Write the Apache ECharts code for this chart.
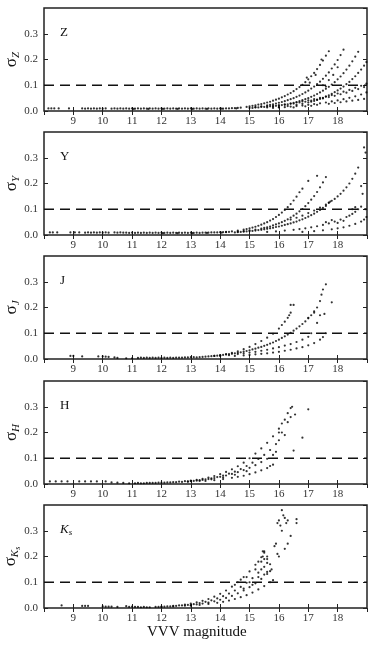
<!DOCTYPE html>
<html>
<head>
<meta charset="utf-8">
<script src="https://cdn.jsdelivr.net/npm/echarts@6/dist/echarts.min.js"></script>
<style>html,body{margin:0;background:#fff}#chart{width:375px;height:650px}</style>
</head>
<body>
<div id="chart"></div>
<script>
// magnitude axis + tick labels
const magMin = 8, magMax = 19;
const sigMax = 0.4;
const refLevel = 0.1;
const refLine = [[8, 0.1], [19, 0.1]];

// ---- Z ----
const zFlat = [[8.15,.01],[8.25,.01],[8.35,.01],[8.5,.01],[8.85,.01],[9.3,.01],[9.4,.009],[9.5,.01],[9.6,.009],[9.7,.01],[9.8,.009],[9.9,.01],[10.0,.009],[10.1,.01],[10.3,.009],[10.4,.01],[10.5,.009],[10.6,.01],[10.7,.009],[10.8,.01],[10.9,.009],[11.0,.01],[11.1,.009],[11.2,.01],[11.3,.009],[11.4,.01],[11.5,.009],[11.6,.01],[11.7,.009],[11.8,.01],[11.9,.009],[12.0,.01],[12.1,.009],[12.2,.01],[12.3,.009],[12.4,.01],[12.5,.009],[12.6,.01],[12.7,.009],[12.8,.01],[12.9,.009],[13.0,.01],[13.1,.009],[13.2,.01],[13.3,.009],[13.4,.01],[13.5,.009],[13.6,.01],[13.7,.009],[13.8,.01],[13.9,.009],[14.0,.01],[14.1,.009],[14.2,.01],[14.3,.01],[14.4,.011],[14.5,.011],[14.6,.012],[11.05,.008],[11.55,.008],[12.05,.008],[12.55,.008],[13.05,.008],[13.55,.008],[14.05,.009],[14.55,.01]];
const zB1 = [[14.7,.013],[14.9,.016],[15.0,.018],[15.1,.02],[15.2,.022],[15.3,.025],[15.4,.027],[15.5,.03],[15.6,.033],[15.7,.036],[15.8,.04],[15.9,.044],[16.0,.048],[16.1,.053],[16.2,.058],[16.3,.064],[16.4,.07],[16.5,.077],[16.6,.085],[16.7,.093],[16.8,.102],[16.9,.112],[17.0,.123],[17.1,.135],[17.2,.148],[17.3,.163],[17.4,.179],[17.5,.196],[17.6,.215],[17.7,.232],[16.95,.13],[17.05,.11],[17.25,.14],[17.45,.2]];
const zB2 = [[15.2,.015],[15.4,.018],[15.6,.022],[15.7,.024],[15.8,.026],[15.9,.029],[16.0,.032],[16.1,.035],[16.2,.038],[16.3,.042],[16.4,.046],[16.5,.05],[16.6,.055],[16.7,.06],[16.8,.066],[16.9,.072],[17.0,.079],[17.1,.087],[17.2,.095],[17.3,.104],[17.4,.114],[17.5,.125],[17.6,.137],[17.7,.15],[17.8,.165],[17.9,.181],[18.0,.198],[18.1,.217],[18.2,.238],[17.5,.1],[17.6,.095],[17.7,.12],[17.85,.14],[18.0,.17]];
const zB3 = [[15.6,.014],[15.8,.017],[16.0,.02],[16.2,.024],[16.4,.029],[16.5,.032],[16.6,.035],[16.7,.038],[16.8,.042],[16.9,.046],[17.0,.05],[17.1,.055],[17.2,.06],[17.3,.066],[17.4,.072],[17.5,.079],[17.6,.086],[17.7,.094],[17.8,.103],[17.9,.112],[18.0,.123],[18.1,.134],[18.2,.147],[18.3,.161],[18.4,.176],[18.5,.193],[18.6,.211],[18.7,.23]];
const zB4 = [[16.0,.015],[16.3,.019],[16.6,.024],[16.8,.028],[17.0,.033],[17.1,.036],[17.2,.039],[17.3,.043],[17.4,.047],[17.5,.051],[17.6,.056],[17.7,.061],[17.8,.067],[17.9,.073],[18.0,.08],[18.1,.087],[18.2,.095],[18.3,.104],[18.4,.113],[18.5,.124],[18.6,.135],[18.7,.148],[18.8,.161],[18.9,.176],[18.98,.19]];
const zB5 = [[15.0,.012],[15.2,.014],[15.4,.016],[15.6,.018],[15.8,.02],[16.0,.023],[16.2,.026],[16.4,.029],[16.6,.033],[16.8,.037],[17.0,.041],[17.2,.046],[17.4,.051],[17.6,.056],[17.8,.062],[18.0,.068],[18.2,.075],[18.4,.082],[18.6,.09],[18.8,.098],[18.98,.106],[15.1,.012],[15.3,.014],[15.5,.016],[15.7,.018],[15.9,.02],[16.1,.023],[16.3,.026],[16.5,.029],[16.7,.033],[16.9,.036],[17.1,.04],[17.3,.044],[17.5,.049],[17.7,.054],[17.9,.059],[18.1,.065],[18.3,.071],[18.5,.078],[18.7,.085],[18.9,.093]];
const zB6 = [[15.8,.012],[16.0,.014],[16.2,.015],[16.4,.017],[16.6,.019],[16.8,.021],[17.0,.024],[17.2,.027],[17.4,.03],[17.6,.033],[17.8,.037],[18.0,.041],[18.2,.046],[18.4,.051],[18.6,.057],[18.8,.064],[18.98,.072],[16.9,.018],[17.3,.024],[17.7,.028],[18.1,.034],[18.5,.04],[18.9,.047],[16.5,.014],[17.1,.02],[17.9,.031],[18.3,.037],[18.7,.043]];

// ---- Y ----
const yFlat = [[8.2,.01],[8.3,.01],[8.45,.01],[8.9,.01],[9.05,.01],[9.2,.01],[9.4,.009],[9.5,.01],[9.6,.009],[9.7,.01],[9.8,.009],[9.9,.01],[10.0,.009],[10.1,.01],[10.2,.009],[10.4,.01],[10.5,.009],[10.6,.01],[10.7,.009],[10.8,.009],[10.9,.008],[11.0,.009],[11.1,.008],[11.2,.009],[11.3,.008],[11.4,.009],[11.5,.008],[11.6,.009],[11.7,.008],[11.8,.009],[11.9,.008],[12.0,.009],[12.1,.008],[12.2,.009],[12.3,.008],[12.4,.009],[12.5,.008],[12.6,.009],[12.7,.008],[12.8,.009],[12.9,.008],[13.0,.009],[13.1,.008],[13.2,.009],[13.3,.008],[13.4,.009],[13.5,.009],[13.6,.009],[13.7,.01],[13.8,.01],[13.9,.01],[14.0,.011],[14.1,.011],[14.2,.011],[14.3,.012],[12.05,.007],[12.55,.007],[13.05,.007],[13.55,.008],[14.05,.009]];
const yB1 = [[14.2,.012],[14.4,.014],[14.6,.017],[14.8,.021],[14.9,.023],[15.0,.026],[15.1,.029],[15.2,.032],[15.3,.036],[15.4,.04],[15.5,.045],[15.6,.05],[15.7,.056],[15.8,.062],[15.9,.07],[16.0,.078],[16.1,.087],[16.2,.097],[16.3,.108],[16.4,.12],[16.5,.134],[16.6,.149],[16.7,.166],[16.8,.18],[17.0,.21]];
const yB2 = [[14.6,.013],[14.8,.015],[15.0,.018],[15.2,.021],[15.4,.025],[15.5,.028],[15.6,.03],[15.7,.033],[15.8,.037],[15.9,.041],[16.0,.045],[16.1,.05],[16.2,.055],[16.3,.061],[16.4,.068],[16.5,.075],[16.6,.083],[16.7,.092],[16.8,.101],[16.9,.112],[17.0,.124],[17.1,.137],[17.2,.151],[17.3,.167],[17.4,.185],[17.5,.204],[17.6,.225],[17.3,.23]];
const yB3 = [[14.5,.01],[14.7,.012],[14.9,.014],[15.1,.016],[15.3,.019],[15.5,.022],[15.7,.026],[15.9,.031],[16.1,.036],[16.3,.042],[16.5,.049],[16.7,.057],[16.9,.066],[17.1,.077],[17.3,.09],[17.5,.105],[17.7,.125],[14.6,.011],[14.8,.013],[15.0,.015],[15.2,.017],[15.4,.02],[15.6,.024],[15.8,.028],[16.0,.033],[16.2,.039],[16.4,.045],[16.6,.052],[16.8,.061],[17.0,.071],[17.2,.083],[17.4,.097],[17.6,.113],[17.75,.13]];
const yB4 = [[16.4,.06],[16.6,.067],[16.8,.075],[17.0,.085],[17.2,.095],[17.4,.106],[17.6,.118],[17.7,.126],[17.8,.133],[17.9,.14],[18.0,.15],[18.1,.16],[18.2,.172],[18.3,.185],[18.4,.2],[18.5,.218],[18.6,.238],[18.7,.262]];
const yB5 = [[15.6,.012],[15.9,.014],[16.2,.017],[16.5,.02],[16.7,.023],[16.9,.026],[17.1,.03],[17.3,.034],[17.5,.039],[17.7,.045],[17.9,.052],[18.1,.06],[18.3,.07],[18.5,.082],[18.6,.09],[18.7,.1],[17.6,.05],[17.8,.058],[18.0,.047],[18.2,.055],[18.4,.075],[18.5,.1],[18.6,.108],[18.8,.11]];
const yB6 = [[16.8,.012],[17.2,.015],[17.5,.018],[17.8,.022],[18.0,.026],[18.2,.03],[18.4,.036],[18.6,.043],[18.8,.052],[18.9,.06],[18.98,.07],[18.9,.34],[18.95,.32],[18.8,.19],[18.85,.16],[18.95,.1]];

// ---- J ----
const jFlat = [[8.9,.012],[9.0,.012],[9.3,.01],[9.85,.01],[10.0,.01],[10.1,.009],[10.2,.008],[10.4,.006],[10.5,.004],[10.8,.003],[11.0,.003],[11.2,.004],[11.3,.005],[11.4,.004],[11.5,.005],[11.6,.004],[11.7,.005],[11.8,.004],[11.9,.005],[12.0,.004],[12.1,.005],[12.2,.004],[12.3,.005],[12.4,.004],[12.5,.005],[12.6,.005],[12.7,.005],[12.8,.006],[12.9,.006],[13.0,.007],[13.1,.007]];
const jB1 = [[13.8,.012],[14.0,.015],[14.2,.019],[14.4,.024],[14.6,.03],[14.8,.038],[15.0,.047],[15.2,.058],[15.4,.07],[15.6,.083],[15.8,.098],[16.0,.118],[16.1,.132],[16.2,.145],[16.3,.16],[16.4,.18],[16.5,.21],[16.35,.17]];
const jB2 = [[13.2,.006],[13.4,.008],[13.6,.01],[13.8,.012],[14.0,.014],[14.2,.017],[14.4,.02],[14.6,.024],[14.8,.029],[15.0,.034],[15.2,.04],[15.4,.047],[15.6,.055],[15.8,.064],[16.0,.075],[16.2,.088],[16.4,.102],[16.6,.118],[16.8,.136],[17.0,.158],[17.1,.17],[17.2,.185],[17.3,.2],[17.4,.225],[17.45,.25],[17.5,.27],[17.6,.29],[13.3,.007],[13.5,.009],[13.7,.011],[13.9,.013],[14.1,.016],[14.3,.019],[14.5,.022],[14.7,.026],[14.9,.031],[15.1,.037],[15.3,.044],[15.5,.051],[15.7,.06],[15.9,.07],[16.1,.082],[16.3,.095],[16.5,.11],[16.7,.127],[16.9,.146],[17.0,.16],[17.2,.18]];
const jB3 = [[14.0,.012],[14.3,.015],[14.6,.019],[14.8,.022],[15.0,.025],[15.2,.028],[15.4,.032],[15.6,.036],[15.8,.041],[16.0,.046],[16.2,.052],[16.4,.058],[16.6,.066],[16.8,.075],[17.0,.086],[17.1,.1],[17.3,.14],[17.4,.17]];
const jB4 = [[14.5,.012],[14.8,.014],[15.0,.016],[15.2,.018],[15.4,.02],[15.6,.022],[15.8,.025],[16.0,.028],[16.2,.032],[16.4,.036],[16.6,.041],[16.8,.046],[17.0,.053],[17.2,.062],[17.4,.075],[17.5,.085],[17.6,.1],[16.4,.21],[17.8,.22],[17.55,.175]];

// ---- H ----
const hFlat = [[8.2,.01],[8.4,.01],[8.6,.01],[8.8,.01],[9.2,.01],[9.4,.01],[9.6,.01],[9.8,.01],[10.1,.01],[10.3,.006],[10.5,.005],[10.7,.004],[10.9,.003],[11.1,.003],[11.3,.003],[11.5,.004],[11.7,.004],[11.9,.005],[11.2,.004],[11.4,.003],[11.6,.004],[11.8,.004]];
const hB1 = [[12.0,.005],[12.2,.006],[12.4,.007],[12.6,.009],[12.8,.011],[13.0,.013],[13.2,.016],[13.4,.02],[13.6,.025],[13.8,.031],[14.0,.038],[14.2,.047],[14.4,.057],[14.6,.069],[14.8,.083],[15.0,.1],[15.2,.118],[15.4,.138],[15.6,.16],[15.8,.185],[16.0,.215],[16.1,.235],[16.2,.25],[16.3,.275],[16.4,.295],[16.45,.3]];
const hB2 = [[12.1,.005],[12.3,.006],[12.5,.007],[12.7,.008],[12.9,.01],[13.1,.012],[13.3,.015],[13.5,.018],[13.7,.022],[13.9,.027],[14.1,.033],[14.3,.04],[14.5,.048],[14.7,.058],[14.9,.07],[15.1,.083],[15.3,.097],[15.5,.113],[15.7,.132],[15.9,.155],[16.0,.17],[16.1,.2],[16.3,.24],[16.4,.26]];
const hB3 = [[13.0,.011],[13.2,.013],[13.4,.016],[13.6,.019],[13.8,.023],[14.0,.028],[14.2,.033],[14.4,.039],[14.6,.046],[14.8,.054],[15.0,.063],[15.2,.073],[15.4,.085],[15.6,.098],[15.8,.113],[15.9,.125],[12.9,.009],[13.3,.012],[13.7,.018],[14.1,.026],[14.5,.036],[14.9,.05]];
const hB4 = [[13.5,.012],[13.8,.015],[14.1,.019],[14.4,.024],[14.6,.028],[14.8,.032],[15.0,.038],[15.2,.045],[15.4,.053],[15.6,.062],[15.7,.07],[15.8,.075],[17.0,.29],[16.8,.18],[16.5,.13],[16.2,.19],[16.0,.2],[16.55,.27]];

// ---- Ks ----
const kFlat = [[8.6,.01],[9.3,.008],[9.4,.008],[9.5,.008],[10.0,.006],[10.1,.005],[10.2,.005],[10.3,.005],[10.5,.004],[10.8,.007],[11.0,.005],[11.2,.004],[11.4,.004],[10.9,.004],[11.1,.004],[11.3,.003]];
const kB1 = [[11.5,.003],[11.8,.004],[12.0,.005],[12.2,.006],[12.4,.008],[12.6,.01],[12.8,.013],[13.0,.017],[13.2,.022],[13.4,.028],[13.6,.035],[13.8,.044],[14.0,.055],[14.2,.068],[14.4,.083],[14.6,.1],[14.8,.12],[15.0,.142],[15.2,.168],[15.4,.197],[15.5,.215]];
const kB2 = [[11.6,.003],[11.9,.004],[12.1,.005],[12.3,.006],[12.5,.008],[12.7,.01],[12.9,.012],[13.1,.015],[13.3,.019],[13.5,.024],[13.7,.03],[13.9,.037],[14.1,.046],[14.3,.056],[14.5,.068],[14.7,.082],[14.9,.098],[15.1,.116],[15.3,.137],[15.5,.16],[15.6,.175]];
const kB3 = [[12.0,.004],[12.4,.006],[12.8,.009],[13.0,.011],[13.2,.014],[13.4,.017],[13.6,.021],[13.8,.026],[14.0,.032],[14.2,.039],[14.4,.047],[14.6,.057],[14.8,.068],[15.0,.081],[15.2,.096],[15.4,.113],[15.6,.132],[15.7,.143]];
const kB4 = [[13.0,.009],[13.3,.012],[13.6,.016],[13.9,.02],[14.1,.024],[14.3,.029],[14.5,.035],[14.7,.042],[14.9,.05],[15.1,.06],[15.3,.072],[15.5,.085],[15.7,.1],[15.8,.108],[14.5,.09],[14.7,.11],[14.9,.12],[15.0,.1],[15.1,.09],[14.8,.075],[15.3,.12],[15.4,.15],[15.5,.19],[15.6,.2],[15.3,.18],[15.45,.22]];
const kTop = [[15.95,.33],[16.0,.34],[16.05,.32],[16.1,.38],[16.15,.36],[16.2,.35],[16.1,.3],[16.25,.33],[16.3,.34],[16.6,.345],[16.6,.33],[16.4,.28],[16.3,.25],[16.2,.23],[15.9,.25],[15.85,.24],[16.0,.2],[15.95,.21],[15.5,.22],[15.45,.2],[15.6,.19],[15.7,.17],[15.75,.15],[15.4,.18],[15.6,.14],[15.2,.15],[15.5,.13]];

const bands = ['Z', 'Y', 'J', 'H', 'Ks'];
const bandPoints = [
  [].concat(zFlat, zB1, zB2, zB3, zB4, zB5, zB6),
  [].concat(yFlat, yB1, yB2, yB3, yB4, yB5, yB6),
  [].concat(jFlat, jB1, jB2, jB3, jB4),
  [].concat(hFlat, hB1, hB2, hB3, hB4),
  [].concat(kFlat, kB1, kB2, kB3, kB4, kTop)
];

const serif = '"Liberation Serif", "DejaVu Serif", serif';
const ink = '#222';
const tops = [8, 132, 256, 381, 505];

const chart = echarts.init(document.getElementById('chart'));

const grid = [], xAxis = [], yAxis = [], series = [], graphic = [];
bands.forEach((b, i) => {
  grid.push({ left: 44, right: 8, top: tops[i], height: 103, outerBoundsMode: 'none', containLabel: false, show: true, borderColor: ink, borderWidth: 1.5, backgroundColor: 'transparent' });
  const tick = { show: true, inside: true, length: 4, lineStyle: { color: ink, width: 1 } };
  xAxis.push({
    gridIndex: i, type: 'value', min: magMin, max: magMax, interval: 1, position: 'bottom',
    axisLine: { show: false }, axisTick: tick, splitLine: { show: false },
    axisLabel: { fontFamily: serif, fontSize: 11, color: '#333', margin: 5, showMinLabel: false, showMaxLabel: false }
  });
  xAxis.push({
    gridIndex: i, type: 'value', min: magMin, max: magMax, interval: 1, position: 'top',
    axisLine: { show: false }, axisTick: tick, splitLine: { show: false }, axisLabel: { show: false }
  });
  const sub = b === 'Ks' ? '{s|σ}{b|K}{c|s}' : '{s|σ}{b|' + b + '}';
  yAxis.push({
    gridIndex: i, type: 'value', min: 0, max: sigMax, interval: 0.1, position: 'left',
    axisLine: { show: false }, axisTick: tick, splitLine: { show: false },
    axisLabel: { fontFamily: serif, fontSize: 11, color: '#333', margin: 6, showMaxLabel: false, formatter: v => v.toFixed(1) },
    name: sub, nameLocation: 'middle', nameGap: 22, nameRotate: 90, nameMoveOverlap: false,
    nameTextStyle: {
      color: '#111',
      rich: {
        s: { fontFamily: serif, fontSize: 17, color: '#111' },
        b: { fontFamily: serif, fontSize: 11, fontStyle: 'italic', color: '#111', padding: [9, 0, 0, 0] },
        c: { fontFamily: serif, fontSize: 8, fontStyle: 'italic', color: '#111', padding: [14, 0, 0, 0] }
      }
    }
  });
  yAxis.push({
    gridIndex: i, type: 'value', min: 0, max: sigMax, interval: 0.1, position: 'right',
    axisLine: { show: false }, axisTick: tick, splitLine: { show: false }, axisLabel: { show: false }
  });
  series.push({
    type: 'line', xAxisIndex: i * 2, yAxisIndex: i * 2, data: refLine,
    symbol: 'none', silent: true,
    lineStyle: { color: '#111', width: 1.6, type: [10, 6] }
  });
  series.push({
    type: 'scatter', xAxisIndex: i * 2, yAxisIndex: i * 2, data: bandPoints[i],
    symbol: 'circle', symbolSize: 2.2, itemStyle: { color: '#000' }
  });
  graphic.push(b === 'Ks'
    ? { type: 'text', left: 60, top: tops[i] + 18, style: { text: '{k|K}{s|s}', rich: { k: { fontFamily: serif, fontSize: 13, fontStyle: 'italic', fill: '#111' }, s: { fontFamily: serif, fontSize: 9, fontStyle: 'italic', fill: '#111', padding: [6, 0, 0, 0] } } } }
    : { type: 'text', left: 60, top: tops[i] + 18, style: { text: b, fontFamily: serif, fontSize: 13, fill: '#111' } });
});
graphic.push({ type: 'text', left: 147, top: 625, style: { text: 'VVV magnitude', fontFamily: serif, fontSize: 15, fill: '#111' } });

chart.setOption({
  backgroundColor: '#fff',
  animation: false,
  grid: grid,
  xAxis: xAxis,
  yAxis: yAxis,
  series: series,
  graphic: graphic
});
</script>
</body>
</html>
